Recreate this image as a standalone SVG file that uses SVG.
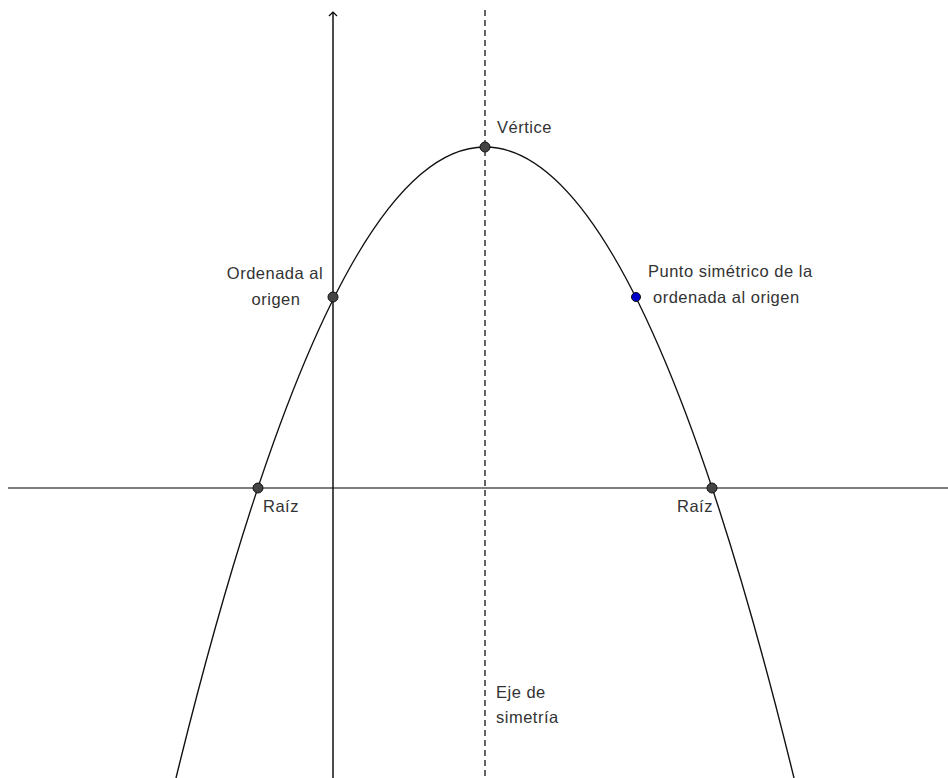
<svg xmlns="http://www.w3.org/2000/svg" width="948" height="778" viewBox="0 0 948 778">
<defs>
<marker id="arr" viewBox="0 0 10 10" refX="9" refY="5" markerWidth="10" markerHeight="10" markerUnits="userSpaceOnUse" orient="auto">
<path d="M5,1 L9,5 L5,9" fill="none" stroke="#000" stroke-width="1.2"/>
</marker>
</defs>
<style>
.lbl{font-family:"Liberation Sans",Arial,sans-serif;font-size:16.5px;letter-spacing:0.5px;fill:#333}
.pt{fill:#444;stroke:#111;stroke-width:1}
.ptb{fill:#0000cc;stroke:#111;stroke-width:1}
</style>
<rect width="948" height="778" fill="#fff"/>
<g id="connectors">
<line id="x-axis" x1="8" y1="488" x2="948" y2="488" stroke="#555" stroke-width="1.6"/>
<line id="y-axis" x1="333" y1="778" x2="333" y2="12" stroke="#000" stroke-width="1.4" marker-end="url(#arr)"/>
<line id="eje" x1="485" y1="10" x2="485" y2="778" stroke="#111" stroke-width="1.3" stroke-dasharray="6,4"/>
<path id="parabola" d="M176,778 Q485,-484 794,778" fill="none" stroke="#111" stroke-width="1.4"/>
</g>
<g id="vertice"><circle class="pt" cx="485" cy="147" r="5"/><text class="lbl" x="497" y="133">Vértice</text></g>
<g id="ordenada"><circle class="pt" cx="333" cy="297" r="5"/><text class="lbl" x="275" y="279" text-anchor="middle">Ordenada al</text><text class="lbl" x="276" y="305" text-anchor="middle">origen</text></g>
<g id="simetrico"><circle class="ptb" cx="636" cy="297" r="4.5"/><text class="lbl" x="648" y="277">Punto simétrico de la</text><text class="lbl" x="653" y="303">ordenada al origen</text></g>
<g id="raiz1"><circle class="pt" cx="258" cy="488" r="5"/><text class="lbl" x="263" y="512">Raíz</text></g>
<g id="raiz2"><circle class="pt" cx="712" cy="488" r="5"/><text class="lbl" x="677" y="512">Raíz</text></g>
<g id="eje-label"><text class="lbl" x="496" y="698">Eje de</text><text class="lbl" x="496" y="723">simetría</text></g>
</svg>
